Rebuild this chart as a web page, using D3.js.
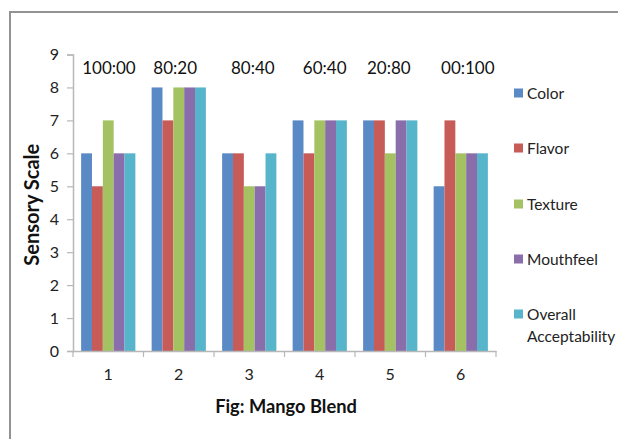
<!DOCTYPE html>
<html>
<head>
<meta charset="utf-8">
<script src="https://cdn.jsdelivr.net/npm/d3@7"></script>
<style>
  html, body { margin: 0; padding: 0; background: #fff; }
  svg { display: block; font-family: Lato, "Open Sans", sans-serif; }
</style>
</head>
<body>
<svg id="chart" width="618" height="439"></svg>
<script>
// Sensory scores for six mango blends
const samples = ["1", "2", "3", "4", "5", "6"];
const blendRatios = ["100:00", "80:20", "80:40", "60:40", "20:80", "00:100"];
const attributes = ["Color", "Flavor", "Texture", "Mouthfeel", "Overall Acceptability"];
const color = [6, 8, 6, 7, 7, 5];
const flavor = [5, 7, 6, 6, 7, 7];
const texture = [7, 8, 5, 7, 6, 6];
const mouthfeel = [6, 8, 5, 7, 7, 6];
const overall = [6, 8, 6, 7, 7, 6];
const yTicks = [0, 1, 2, 3, 4, 5, 6, 7, 8, 9];

const seriesValues = [color, flavor, texture, mouthfeel, overall];
const palette = ["#5a8ac6", "#c65b58", "#a5c263", "#8a6eab", "#56b4cb"];

const svg = d3.select("#chart");

// outer chart frame (runs off the right and bottom edges)
svg.append("rect")
  .attr("x", 10).attr("y", 12)
  .attr("width", 640).attr("height", 460)
  .attr("fill", "#fff")
  .attr("stroke", "#929292").attr("stroke-width", 2);

const plot = { left: 73, right: 496, top: 54.5, bottom: 351 };

const x0 = d3.scaleBand().domain(samples).range([plot.left, plot.right]).paddingInner(0).paddingOuter(0);
// Excel-style gap: 5 bars plus a gap of 1.5 bar widths per category
const groupFrac = 5 / 6.5;
const x1 = d3.scaleBand().domain(attributes)
  .range([0, x0.bandwidth() * groupFrac]);
const groupOffset = x0.bandwidth() * (1 - groupFrac) / 2;
const y = d3.scaleLinear().domain([0, 9]).range([plot.bottom, plot.top]);

// bars
const rows = samples.map((s, i) => ({ sample: s, vals: attributes.map((a, k) => ({ attr: a, k, v: seriesValues[k][i] })) }));
const groups = svg.append("g").selectAll("g").data(rows).join("g")
  .attr("transform", d => `translate(${x0(d.sample) + groupOffset},0)`);
groups.selectAll("rect").data(d => d.vals).join("rect")
  .attr("x", d => x1(d.attr))
  .attr("y", d => y(d.v))
  .attr("width", x1.bandwidth())
  .attr("height", d => y(0) - y(d.v))
  .attr("fill", d => palette[d.k]);

// y axis
const yAxis = d3.axisLeft(y).tickValues(yTicks).tickSize(6).tickPadding(8);
const gy = svg.append("g").attr("transform", `translate(${plot.left},0)`).call(yAxis);
gy.select(".domain").attr("stroke", "#b8b8b8").attr("stroke-width", 1.5);
gy.selectAll(".tick line").attr("stroke", "#b8b8b8").attr("stroke-width", 1.2);
gy.selectAll(".tick text").attr("font-size", 16).attr("fill", "#222").attr("font-family", "Lato, sans-serif");

// x axis
const xAxis = d3.axisBottom(x0).tickSize(0).tickPadding(18);
const gx = svg.append("g").attr("transform", `translate(0,${plot.bottom})`).call(xAxis);
gx.select(".domain").attr("stroke", "#b8b8b8").attr("stroke-width", 1.5);
gx.selectAll(".tick text").attr("font-size", 16).attr("fill", "#222").attr("font-family", "Lato, sans-serif");
// category boundary ticks
const bounds = samples.map(s => x0(s)).concat([plot.right]);
gx.selectAll(".bound").data(bounds).join("line")
  .attr("x1", d => d).attr("x2", d => d)
  .attr("y1", 0).attr("y2", 6)
  .attr("stroke", "#b8b8b8").attr("stroke-width", 1.2);

// axis titles
svg.append("text")
  .attr("transform", `translate(39,${(plot.top + plot.bottom) / 2 + 2}) rotate(-90)`)
  .attr("text-anchor", "middle")
  .attr("font-size", 20).attr("font-weight", "bold").attr("fill", "#111")
  .text("Sensory Scale");
svg.append("text")
  .attr("x", 286).attr("y", 413)
  .attr("text-anchor", "middle")
  .attr("font-size", 18.3).attr("font-weight", "bold").attr("fill", "#111")
  .text("Fig: Mango Blend");

// blend ratio annotations above the bars (placed in category units)
const ratioAt = d3.scaleLinear().domain([0, samples.length]).range([plot.left, plot.right]);
const ratioPos = [0.51, 1.45, 2.55, 3.57, 4.48, 5.6];
svg.append("g").selectAll("text").data(blendRatios).join("text")
  .attr("x", (d, i) => ratioAt(ratioPos[i]))
  .attr("y", 74)
  .attr("text-anchor", "middle")
  .attr("font-size", 17).attr("fill", "#111")
  .text(d => d);

// legend
const legend = svg.append("g").attr("transform", "translate(514,0)");
const legendY = [93, 148, 204, 259, 314];
attributes.forEach((a, k) => {
  const g = legend.append("g").attr("transform", `translate(0,${legendY[k]})`);
  g.append("rect").attr("x", 0).attr("y", -4.5).attr("width", 9).attr("height", 9).attr("fill", palette[k]);
  const words = a === "Overall Acceptability" ? ["Overall", "Acceptability"] : [a];
  words.forEach((w, j) => {
    g.append("text")
      .attr("x", 13)
      .attr("y", 5.5 + j * 22)
      .attr("font-size", 15.5).attr("fill", "#222")
      .text(w);
  });
});
</script>
</body>
</html>
